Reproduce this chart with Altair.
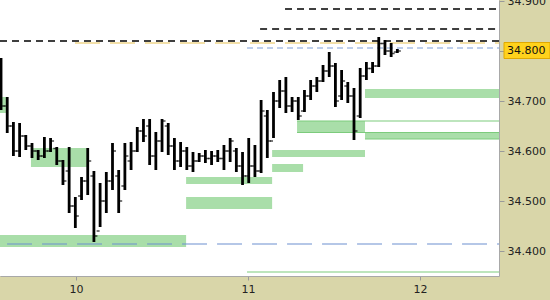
import altair as alt
import pandas as pd

# ---- price bars (one bar per interval, time in days) ----
bar_start = 9.564
bar_step = 0.036
highs = [34.786, 34.708, 34.658, 34.656, 34.632, 34.616, 34.602, 34.628, 34.626, 34.608,
         34.582, 34.608, 34.508, 34.548, 34.606, 34.560, 34.536, 34.558, 34.616, 34.562,
         34.616, 34.618, 34.648, 34.664, 34.664, 34.638, 34.664, 34.656, 34.626, 34.618,
         34.608, 34.598, 34.596, 34.602, 34.600, 34.602, 34.612, 34.626, 34.606, 34.598,
         34.626, 34.612, 34.702, 34.682, 34.718, 34.742, 34.748, 34.708, 34.708, 34.722,
         34.742, 34.748, 34.772, 34.798, 34.776, 34.762, 34.738, 34.726, 34.766, 34.778,
         34.778, 34.828, 34.822, 34.816, 34.804]
lows = [34.682, 34.636, 34.590, 34.588, 34.602, 34.586, 34.582, 34.586, 34.598, 34.572,
        34.532, 34.476, 34.446, 34.502, 34.512, 34.418, 34.448, 34.476, 34.522, 34.476,
        34.522, 34.562, 34.598, 34.618, 34.572, 34.562, 34.598, 34.592, 34.562, 34.568,
        34.562, 34.558, 34.578, 34.576, 34.572, 34.578, 34.562, 34.578, 34.558, 34.532,
        34.536, 34.548, 34.556, 34.586, 34.626, 34.686, 34.676, 34.678, 34.662, 34.678,
        34.702, 34.718, 34.738, 34.748, 34.688, 34.702, 34.696, 34.622, 34.666, 34.742,
        34.756, 34.768, 34.792, 34.788, 34.796]
opens = [34.780, 34.690, 34.650, 34.600, 34.630, 34.610, 34.600, 34.590, 34.600, 34.605,
         34.580, 34.560, 34.490, 34.510, 34.540, 34.550, 34.440, 34.500, 34.540, 34.550,
         34.530, 34.580, 34.600, 34.640, 34.650, 34.590, 34.620, 34.650, 34.610, 34.580,
         34.600, 34.570, 34.580, 34.590, 34.585, 34.590, 34.585, 34.600, 34.600, 34.570,
         34.550, 34.570, 34.560, 34.670, 34.620, 34.700, 34.720, 34.690, 34.700, 34.680,
         34.710, 34.730, 34.740, 34.760, 34.770, 34.710, 34.730, 34.710, 34.670, 34.750,
         34.765, 34.770, 34.815, 34.800, 34.798]
closes = [34.690, 34.650, 34.600, 34.630, 34.610, 34.600, 34.590, 34.600, 34.620, 34.580,
          34.540, 34.490, 34.470, 34.540, 34.580, 34.430, 34.500, 34.540, 34.600, 34.500,
          34.590, 34.600, 34.640, 34.630, 34.590, 34.620, 34.660, 34.610, 34.580, 34.600,
          34.570, 34.580, 34.590, 34.585, 34.590, 34.585, 34.600, 34.620, 34.570, 34.550,
          34.570, 34.560, 34.680, 34.620, 34.700, 34.720, 34.690, 34.700, 34.670, 34.710,
          34.730, 34.740, 34.760, 34.770, 34.700, 34.740, 34.710, 34.640, 34.750, 34.765,
          34.770, 34.815, 34.800, 34.795, 34.800]
bar_times = [bar_start + i * bar_step for i in range(len(highs))]

# ---- shaded zones ----
zone_start = [9.558, 9.738, 9.558, 10.640, 10.640, 11.140, 11.140, 11.285, 11.680, 11.680]
zone_end = [9.599, 10.070, 10.640, 11.140, 11.140, 11.320, 11.680, 11.680, 12.459, 12.459]
zone_low = [34.676, 34.568, 34.408, 34.534, 34.484, 34.558, 34.588, 34.636, 34.624, 34.706]
zone_high = [34.708, 34.606, 34.432, 34.548, 34.508, 34.574, 34.602, 34.660, 34.638, 34.724]

# ---- horizontal level lines ----
black_start = [9.558, 11.070, 11.215]
black_end = [12.459, 12.459, 12.459]
black_level = [34.820, 34.844, 34.884]

green_start = [10.994, 11.285, 11.285, 11.680]
green_end = [12.459, 12.459, 12.459, 12.459]
green_level = [34.358, 34.660, 34.637, 34.624]

last_price = 34.800

x_min, x_max = 9.558, 12.459
y_min, y_max = 34.35, 34.902
y_ticks = [34.4, 34.5, 34.6, 34.7, 34.8, 34.9]
x_ticks = [10, 11, 12]

FONT = "DejaVu Sans"

bars = pd.DataFrame({"t": bar_times, "high": highs, "low": lows,
                     "open": opens, "close": closes})
zones = pd.DataFrame({"t0": zone_start, "t1": zone_end,
                      "lo": zone_low, "hi": zone_high})
black_lines = pd.DataFrame({"t0": black_start, "t1": black_end, "y": black_level})
green_lines = pd.DataFrame({"t0": green_start, "t1": green_end, "y": green_level})
gold_line = pd.DataFrame({"t0": [9.994], "t1": [12.459], "y": [34.816]})
blue_short = pd.DataFrame({"t0": [10.994], "t1": [12.459], "y": [34.806]})
blue_long = pd.DataFrame({"t0": [9.599], "t1": [12.459], "y": [34.414]})
price_df = pd.DataFrame({"p": [last_price], "top": [last_price + 0.017],
                         "bot": [last_price - 0.015],
                         "label": [f"{last_price:.3f}"]})

xs = alt.Scale(domain=[x_min, x_max], nice=False, zero=False)
ys = alt.Scale(domain=[y_min, y_max], nice=False, zero=False)

x_axis = alt.Axis(values=x_ticks, format="d", title=None, grid=False,
                  labelFont=FONT, labelFontSize=11, labelColor="#222222",
                  tickColor="#9a9a9a", tickSize=4, domainColor="#a8a8a8",
                  labelPadding=3, labelFlush=False)
y_axis = alt.Axis(values=y_ticks, format=".3f", title=None, grid=False, orient="right",
                  labelFont=FONT, labelFontSize=11, labelColor="#222222",
                  tickColor="#9a9a9a", tickSize=5, domainColor="#a8a8a8",
                  labelPadding=3, labelFlush=False, labelOverlap=False, labelBound=False)

zone_layer = alt.Chart(zones).mark_rect(color="#a9dea9").encode(
    x=alt.X("t0:Q", scale=xs, axis=x_axis), x2="t1:Q",
    y=alt.Y("lo:Q", scale=ys, axis=y_axis), y2="hi:Q")


def level(df, color, dash=None, width=1.0):
    kw = dict(color=color, strokeWidth=width)
    if dash:
        kw["strokeDash"] = dash
    return alt.Chart(df).mark_rule(**kw).encode(
        x=alt.X("t0:Q", scale=xs), x2="t1:Q", y=alt.Y("y:Q", scale=ys))


green_layer = level(green_lines, "#7ccb7c", width=1.2)
gold_layer = level(gold_line, "#f0d68c", dash=[25, 10], width=1.5)
black_layer = level(black_lines, "#000000", dash=[7, 5], width=1.4)
blue_short_layer = level(blue_short, "#7f9fd8", dash=[6, 4], width=1.2)
blue_long_layer = level(blue_long, "#6d8fd0", dash=[25, 10], width=1.2)

hl_layer = alt.Chart(bars).mark_rule(color="#000000", strokeWidth=2.8).encode(
    x=alt.X("t:Q", scale=xs), y=alt.Y("low:Q", scale=ys), y2="high:Q")
open_layer = alt.Chart(bars).mark_tick(
    color="#000000", orient="horizontal", size=3, thickness=1.5, xOffset=-2).encode(
    x=alt.X("t:Q", scale=xs), y=alt.Y("open:Q", scale=ys))
close_layer = alt.Chart(bars).mark_tick(
    color="#000000", orient="horizontal", size=3, thickness=1.5, xOffset=2).encode(
    x=alt.X("t:Q", scale=xs), y=alt.Y("close:Q", scale=ys))

price_box = alt.Chart(price_df).mark_rect(
    color="#ffd21c", stroke="#e0a800", strokeWidth=1).encode(
    x=alt.value(504), x2=alt.value(550),
    y=alt.Y("top:Q", scale=ys), y2="bot:Q")
price_text = alt.Chart(price_df).mark_text(
    font=FONT, fontSize=11, color="#111111", align="left", baseline="middle").encode(
    x=alt.value(507), y=alt.Y("p:Q", scale=ys), text="label:N")

chart = alt.layer(
    zone_layer, green_layer, gold_layer, black_layer, blue_short_layer,
    blue_long_layer, hl_layer, open_layer, close_layer, price_box, price_text
).properties(
    width=499, height=276,
    padding={"left": 0, "top": 0, "right": 51, "bottom": 24},
    autosize=alt.AutoSizeParams(type="none"),
    background="#d9d6a9",
).configure_view(fill="#ffffff", stroke=None)

chart.save("out.html", embed_options={"renderer": "svg", "actions": False})
